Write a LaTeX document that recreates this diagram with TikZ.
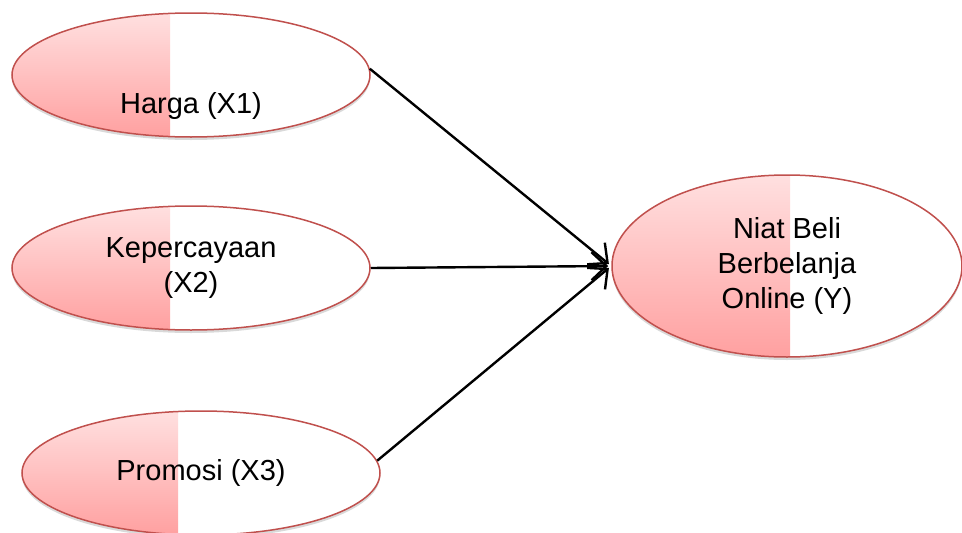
\documentclass[tikz,border=0pt]{standalone}
\usepackage{fontspec}
\setmainfont{Liberation Sans}
\usetikzlibrary{shapes.geometric,arrows.meta,shadows}
\definecolor{pktop}{HTML}{FFE0E0}
\definecolor{pkbot}{HTML}{FFA0A0}
\definecolor{rimred}{HTML}{C0504D}
\begin{document}
\begin{tikzpicture}[x=1pt,y=-1pt,
  latent/.style={ellipse, draw=rimred, line width=1.5pt, fill=white, inner sep=0pt,
    minimum width=358pt, minimum height=124pt, align=center,
    font=\fontsize{29}{35}\selectfont,
    drop shadow={shadow xshift=0pt, shadow yshift=-3pt, opacity=0.15, fill=black},
    path picture={\shade[top color=pktop,bottom color=pkbot]
      (path picture bounding box.north west) rectangle ([xshift=#1]path picture bounding box.south);}},
  link/.style={line width=2.4pt, -{Straight Barb[length=15pt,width=28pt]}}
]
\clip (0,0) rectangle (962,533);
\useasboundingbox (0,0) rectangle (962,533);
\node[latent=-21pt, label={[name=x1t, yshift=-31pt, font=\fontsize{29}{35}\selectfont]center:Harga (X1)}] (x1) at (191,75) {};
\node[latent=-21pt] (x2) at (191,268) {Kepercayaan\\(X2)};
\node[latent=-23pt] (x3) at (201,473) {Promosi (X3)};
\node[latent=3pt, minimum width=350pt, minimum height=182pt] (y) at (787,266) {Niat Beli\\Berbelanja\\Online (Y)};
\draw[link, shorten >=3pt] (x1.2) -- (y.west);
\draw[link, shorten >=3pt] (x2.east) -- (y.west);
\draw[link, shorten >=3pt] (x3.4) -- (y.west);
\end{tikzpicture}
\end{document}
